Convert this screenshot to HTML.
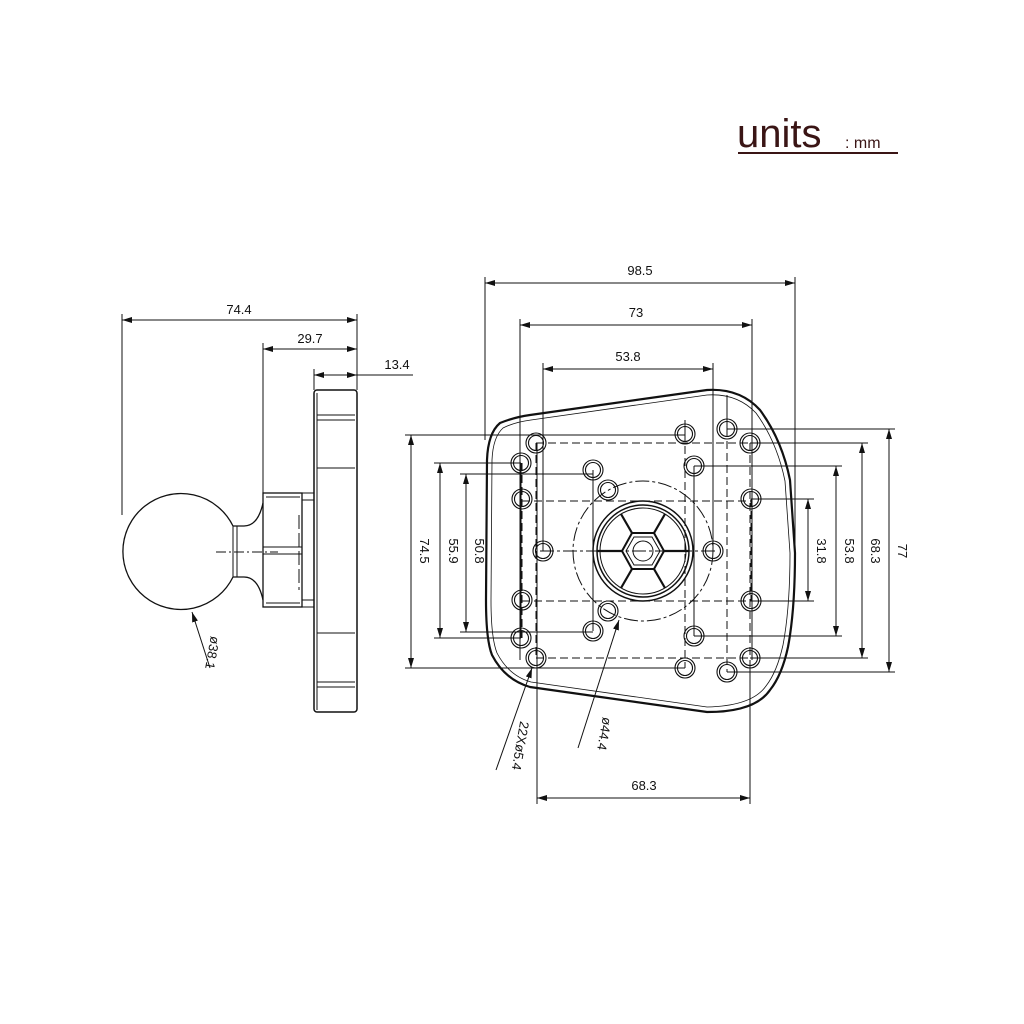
<!DOCTYPE html>
<html><head><meta charset="utf-8"><style>
html,body{margin:0;padding:0;background:#fff;width:1024px;height:1024px;overflow:hidden}
svg text{font-family:"Liberation Sans",sans-serif;fill:#111}
</style></head><body>
<svg width="1024" height="1024" viewBox="0 0 1024 1024" xmlns="http://www.w3.org/2000/svg">
<defs>
<marker id="a" viewBox="0 0 10 6" refX="10" refY="3" markerWidth="10" markerHeight="6" orient="auto-start-reverse" markerUnits="userSpaceOnUse"><path d="M0,0 L10,3 L0,6 z" fill="#111"/></marker>
</defs>
<text x="737" y="147" font-size="40" style="fill:#3a1515">units</text>
<text x="845" y="148" font-size="16" style="fill:#3a1515">: mm</text>
<line x1="738" y1="153" x2="898" y2="153" stroke="#3a1515" stroke-width="2"/>

<g stroke="#111" fill="none" stroke-width="1">
<line x1="122" y1="314" x2="122" y2="515"/>
<line x1="357" y1="314" x2="357" y2="390"/>
<line x1="263" y1="343" x2="263" y2="493"/>
<line x1="314" y1="369" x2="314" y2="390"/>
<line x1="122" y1="320" x2="357" y2="320" marker-start="url(#a)" marker-end="url(#a)"/>
<line x1="263" y1="349" x2="357" y2="349" marker-start="url(#a)" marker-end="url(#a)"/>
<line x1="314" y1="375" x2="357" y2="375" marker-start="url(#a)" marker-end="url(#a)"/>
<line x1="357" y1="375" x2="413" y2="375"/>
<rect x="314" y="390" width="43" height="322" rx="3" stroke-width="1.5"/>
<line x1="317" y1="415" x2="355" y2="415"/><line x1="317" y1="420" x2="355" y2="420"/>
<line x1="317" y1="468" x2="355" y2="468"/>
<line x1="317" y1="633" x2="355" y2="633"/>
<line x1="317" y1="682" x2="355" y2="682"/><line x1="317" y1="687" x2="355" y2="687"/>
<line x1="317" y1="393" x2="317" y2="710"/>
<rect x="263" y="493" width="39" height="114" stroke-width="1.3"/>
<rect x="302" y="493" width="12" height="114"/>
<line x1="266" y1="497" x2="300" y2="497"/><line x1="266" y1="603" x2="300" y2="603"/>
<line x1="263" y1="547" x2="302" y2="547"/><line x1="263" y1="554" x2="302" y2="554"/>
<line x1="302" y1="500" x2="314" y2="500"/><line x1="302" y1="600" x2="314" y2="600"/>
<line x1="299" y1="515" x2="299" y2="590" stroke-dasharray="14 4"/>
<!-- ball -->
<path d="M233,526 A58,58 0 1 0 233,577 L244,577 Q258,577 263,600 M233,526 L244,526 Q258,526 263,503" stroke-width="1.3"/>
<line x1="233" y1="526" x2="233" y2="577"/><line x1="237" y1="526" x2="237" y2="577"/>
<line x1="216" y1="552" x2="278" y2="552" stroke-dasharray="10 3 2 3"/>
<line x1="210" y1="668" x2="192" y2="612" marker-end="url(#a)"/>

<line x1="485" y1="277" x2="485" y2="440"/><line x1="795" y1="277" x2="795" y2="555"/>
<line x1="485" y1="283" x2="795" y2="283" marker-start="url(#a)" marker-end="url(#a)"/>
<line x1="520" y1="319" x2="520" y2="660"/><line x1="752" y1="319" x2="752" y2="660"/>
<line x1="520" y1="325" x2="752" y2="325" marker-start="url(#a)" marker-end="url(#a)"/>
<line x1="543" y1="363" x2="543" y2="551"/><line x1="713" y1="363" x2="713" y2="551"/>
<line x1="543" y1="369" x2="713" y2="369" marker-start="url(#a)" marker-end="url(#a)"/>
<line x1="537" y1="443" x2="537" y2="804"/><line x1="750" y1="660" x2="750" y2="804"/>
<line x1="537" y1="798" x2="750" y2="798" marker-start="url(#a)" marker-end="url(#a)"/>
<line x1="405" y1="435" x2="685" y2="435"/><line x1="405" y1="668" x2="685" y2="668"/>
<line x1="411" y1="435" x2="411" y2="668" marker-start="url(#a)" marker-end="url(#a)"/>
<line x1="434" y1="463" x2="521" y2="463"/><line x1="434" y1="638" x2="521" y2="638"/>
<line x1="440" y1="463" x2="440" y2="638" marker-start="url(#a)" marker-end="url(#a)"/>
<line x1="460" y1="474" x2="593" y2="474"/><line x1="460" y1="632" x2="593" y2="632"/>
<line x1="466" y1="474" x2="466" y2="632" marker-start="url(#a)" marker-end="url(#a)"/>
<line x1="727" y1="429" x2="895" y2="429"/><line x1="727" y1="672" x2="895" y2="672"/>
<line x1="889" y1="429" x2="889" y2="672" marker-start="url(#a)" marker-end="url(#a)"/>
<line x1="750" y1="443" x2="868" y2="443"/><line x1="750" y1="658" x2="868" y2="658"/>
<line x1="862" y1="443" x2="862" y2="658" marker-start="url(#a)" marker-end="url(#a)"/>
<line x1="694" y1="466" x2="842" y2="466"/><line x1="694" y1="636" x2="842" y2="636"/>
<line x1="836" y1="466" x2="836" y2="636" marker-start="url(#a)" marker-end="url(#a)"/>
<line x1="751" y1="499" x2="814" y2="499"/><line x1="751" y1="601" x2="814" y2="601"/>
<line x1="808" y1="499" x2="808" y2="601" marker-start="url(#a)" marker-end="url(#a)"/>
<line x1="685" y1="420" x2="685" y2="434"/><line x1="727" y1="395" x2="727" y2="429"/>
<line x1="593" y1="470" x2="593" y2="631"/><line x1="694" y1="466" x2="694" y2="636"/>
<line x1="521" y1="463" x2="521" y2="638"/>

<path d="M500,423 Q515,417 530,415 L707,390 Q740,388 760,410 Q782,440 790,480 L795,553 Q795,610 788,647 Q782,675 770,690 Q755,712 707,712 L530,687 Q505,680 492,655 Q486,640 486,600 L487,460 Q488,433 500,423 Z" stroke-width="2.2"/>
<path d="M503,428 Q515,422 531,420 L707,395 Q737,393 756,413 Q777,442 785,481 L790,553 Q790,608 783,645 Q777,672 766,686 Q752,706 707,707 L531,682 Q509,676 497,653 Q491,638 491,600 L492,460 Q493,437 503,428 Z" stroke-width="0.8"/>

<g stroke-dasharray="8 4">
<line x1="536" y1="443" x2="750" y2="443"/><line x1="536" y1="658" x2="750" y2="658"/>
<line x1="522" y1="501" x2="751" y2="501"/><line x1="522" y1="601" x2="751" y2="601"/>
<line x1="536" y1="443" x2="536" y2="658"/><line x1="750" y1="443" x2="750" y2="658"/>
<line x1="522" y1="463" x2="522" y2="638"/><line x1="751" y1="499" x2="751" y2="601"/>
<line x1="593" y1="470" x2="593" y2="631"/><line x1="685" y1="434" x2="685" y2="668"/>
<line x1="727" y1="429" x2="727" y2="672"/><line x1="694" y1="466" x2="694" y2="636"/>
</g>
<line x1="540" y1="551" x2="716" y2="551" stroke-dasharray="14 3 3 3"/>
<circle cx="643" cy="551" r="70" stroke-dasharray="14 3 3 3"/>

<g stroke-width="1.1">
<circle cx="536" cy="443" r="10"/><circle cx="536" cy="443" r="7.5"/>
<circle cx="521" cy="463" r="10"/><circle cx="521" cy="463" r="7.5"/>
<circle cx="522" cy="499" r="10"/><circle cx="522" cy="499" r="7.5"/>
<circle cx="543" cy="551" r="10"/><circle cx="543" cy="551" r="7.5"/>
<circle cx="522" cy="600" r="10"/><circle cx="522" cy="600" r="7.5"/>
<circle cx="521" cy="638" r="10"/><circle cx="521" cy="638" r="7.5"/>
<circle cx="536" cy="658" r="10"/><circle cx="536" cy="658" r="7.5"/>
<circle cx="593" cy="470" r="10"/><circle cx="593" cy="470" r="7.5"/>
<circle cx="608" cy="490" r="10"/><circle cx="608" cy="490" r="7.5"/>
<circle cx="608" cy="611" r="10"/><circle cx="608" cy="611" r="7.5"/>
<circle cx="593" cy="631" r="10"/><circle cx="593" cy="631" r="7.5"/>
<circle cx="685" cy="434" r="10"/><circle cx="685" cy="434" r="7.5"/>
<circle cx="694" cy="466" r="10"/><circle cx="694" cy="466" r="7.5"/>
<circle cx="713" cy="551" r="10"/><circle cx="713" cy="551" r="7.5"/>
<circle cx="694" cy="636" r="10"/><circle cx="694" cy="636" r="7.5"/>
<circle cx="685" cy="668" r="10"/><circle cx="685" cy="668" r="7.5"/>
<circle cx="727" cy="429" r="10"/><circle cx="727" cy="429" r="7.5"/>
<circle cx="750" cy="443" r="10"/><circle cx="750" cy="443" r="7.5"/>
<circle cx="751" cy="499" r="10"/><circle cx="751" cy="499" r="7.5"/>
<circle cx="751" cy="601" r="10"/><circle cx="751" cy="601" r="7.5"/>
<circle cx="750" cy="658" r="10"/><circle cx="750" cy="658" r="7.5"/>
<circle cx="727" cy="672" r="10"/><circle cx="727" cy="672" r="7.5"/>
</g>

<circle cx="643" cy="551" r="50" stroke-width="1.5"/>
<circle cx="643" cy="551" r="46" stroke-width="1.5"/>
<circle cx="643" cy="551" r="43"/>
<polygon points="622,551 632,533 654,533 664,551 654,569 632,569" stroke-width="2"/>
<polygon points="626,551 634,537 652,537 660,551 652,565 634,565"/>
<circle cx="643" cy="551" r="10"/>
<g stroke-width="2.2">
<line x1="632" y1="533" x2="621" y2="514"/><line x1="654" y1="533" x2="665" y2="514"/>
<line x1="632" y1="569" x2="621" y2="588"/><line x1="654" y1="569" x2="665" y2="588"/>
<line x1="622" y1="551" x2="597" y2="551"/><line x1="664" y1="551" x2="689" y2="551"/>
</g>

<line x1="496" y1="770" x2="532" y2="668" marker-end="url(#a)"/>
<line x1="578" y1="748" x2="619" y2="620" marker-end="url(#a)"/>
</g>

<g font-size="13">
<text x="239" y="314" text-anchor="middle">74.4</text>
<text x="310" y="343" text-anchor="middle">29.7</text>
<text x="397" y="369" text-anchor="middle">13.4</text>
<text x="640" y="275" text-anchor="middle">98.5</text>
<text x="636" y="317" text-anchor="middle">73</text>
<text x="628" y="361" text-anchor="middle">53.8</text>
<text x="644" y="790" text-anchor="middle">68.3</text>
<text transform="translate(420,551) rotate(90)" text-anchor="middle">74.5</text>
<text transform="translate(449,551) rotate(90)" text-anchor="middle">55.9</text>
<text transform="translate(475,551) rotate(90)" text-anchor="middle">50.8</text>
<text transform="translate(817,551) rotate(90)" text-anchor="middle">31.8</text>
<text transform="translate(845,551) rotate(90)" text-anchor="middle">53.8</text>
<text transform="translate(871,551) rotate(90)" text-anchor="middle">68.3</text>
<text transform="translate(898,551) rotate(90)" text-anchor="middle">77</text>
<text transform="translate(208,652) rotate(100)" text-anchor="middle">ø38.1</text>
<text transform="translate(516,745) rotate(100)" text-anchor="middle">22Xø5.4</text>
<text transform="translate(600,733) rotate(100)" text-anchor="middle">ø44.4</text>
</g>
</svg>
</body></html>
